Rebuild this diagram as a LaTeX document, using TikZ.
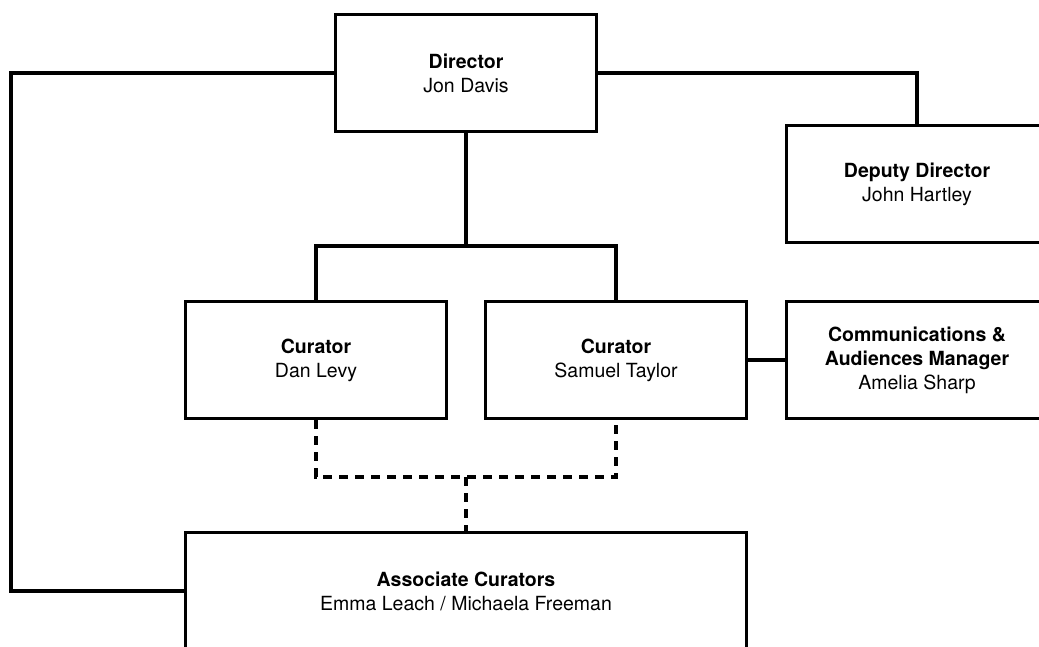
\documentclass[tikz,border=0pt]{standalone}
\usepackage{fontspec}
\setmainfont{TeX Gyre Heros}
\begin{document}
\begin{tikzpicture}[x=1pt, y=-1pt]

  \tikzset{
    rolebox/.style={
      rectangle,
      draw=black,
      fill=white,
      line width=3.2pt,
      minimum width=261pt,
      minimum height=117pt,
      font=\fontsize{19.5}{24}\selectfont,
      align=center,
      inner sep=0pt
    },
    link/.style={black, line width=3.2pt},
    dashlink/.style={black, line width=3.2pt, dash pattern=on 9pt off 7pt}
  }

  \useasboundingbox (0,0) rectangle (1039,646);
  \clip (0,0) rectangle (1039,646);

  \node[rolebox] (director) at (466, 73) {\textbf{Director}\\Jon Davis};
  \node[rolebox] (deputy) at (917, 184) {\textbf{Deputy Director}\\John Hartley};
  \node[rolebox] (curdan) at (316, 360) {\textbf{Curator}\\Dan Levy};
  \node[rolebox] (cursam) at (616, 360) {\textbf{Curator}\\Samuel Taylor};
  \node[rolebox] (comms) at (917, 360) {\textbf{Communications \&}\\\textbf{Audiences Manager}\\Amelia Sharp};
  \node[rolebox, minimum width=561pt] (assoc) at (466, 591) {\textbf{Associate Curators}\\Emma Leach / Michaela Freeman};

  \coordinate (leftrail) at (11, 591);
  \coordinate (split) at (466, 246);
  \coordinate (dashjoin) at (466, 477);

  \draw[link] (director.west) -| (leftrail) -- (assoc.west);
  \draw[link] (director.east) -| (deputy.north);
  \draw[link] (director.south) -- (split);
  \draw[link] (curdan.north) |- (split) -| (cursam.north);
  \draw[link] (cursam.east) -- (comms.west);

  \draw[dashlink] (curdan.south) |- (dashjoin) -| (cursam.south);
  \draw[dashlink] (dashjoin) -- (assoc.north);

\end{tikzpicture}
\end{document}
